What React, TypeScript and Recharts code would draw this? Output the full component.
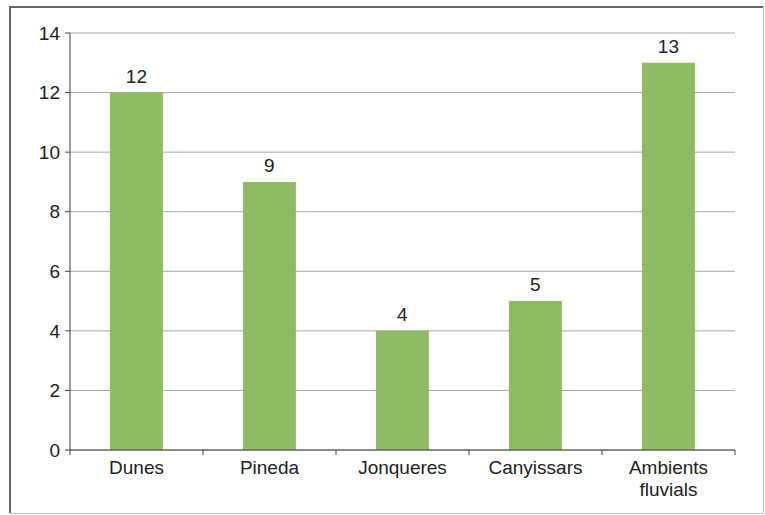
import React from "react";
import { BarChart, Bar, XAxis, YAxis, CartesianGrid, LabelList } from "recharts";

const categories = ["Dunes", "Pineda", "Jonqueres", "Canyissars", "Ambients fluvials"];
const values = [12, 9, 4, 5, 13];
const yTicks = [0, 2, 4, 6, 8, 10, 12, 14];

const data = categories.map((c, i) => ({ name: c, value: values[i] }));

const W = 765;
const H = 515;
const margin = { top: 33, right: 30, left: 10, bottom: 25 };
const yAxisWidth = 60;
const plotLeft = margin.left + yAxisWidth;
const plotWidth = W - plotLeft - margin.right;
const step = plotWidth / categories.length;
const FONT = "'Liberation Sans', Arial, sans-serif";
const FS = 19;

const XTick = (props: any) => {
  const { x, y, payload, index } = props;
  const label: string = payload.value;
  const lines = label.length > 11 ? label.split(" ") : [label];
  const left = x - step / 2;
  return (
    <g>
      <line x1={left} y1={y} x2={left} y2={y + 5} stroke="#404040" strokeWidth={1} />
      {index === categories.length - 1 && (
        <line x1={x + step / 2} y1={y} x2={x + step / 2} y2={y + 5} stroke="#404040" strokeWidth={1} />
      )}
      <text x={x} y={y + 24} textAnchor="middle" fill="#222" fontSize={FS} fontFamily={FONT}>
        {lines.map((l, i) => (
          <tspan key={i} x={x} dy={i === 0 ? 0 : 22}>
            {l}
          </tspan>
        ))}
      </text>
    </g>
  );
};

export default function App() {
  return (
    <div style={{ position: "absolute", left: 0, top: 0, width: W, height: H, background: "#fff" }}>
      <svg width={W} height={H} style={{ position: "absolute", left: 0, top: 0 }}>
        <line x1={9} y1={7} x2={763} y2={7} stroke="#666" strokeWidth={2} />
        <line x1={10} y1={6} x2={10} y2={513} stroke="#666" strokeWidth={2} />
        <line x1={763.5} y1={6} x2={763.5} y2={513} stroke="#c8c8c8" strokeWidth={1} />
        <line x1={10} y1={513.5} x2={764} y2={513.5} stroke="#c8c8c8" strokeWidth={1} />
      </svg>
      <div style={{ position: "absolute", left: 0, top: 0 }}>
        <BarChart width={W} height={H} data={data} margin={margin} barCategoryGap="30%">
          <CartesianGrid vertical={false} stroke="#a6a6a6" strokeWidth={1} />
          <XAxis
            dataKey="name"
            tick={<XTick />}
            tickLine={false}
            tickSize={0}
            tickMargin={0}
            axisLine={{ stroke: "#404040", strokeWidth: 1 }}
            height={40}
            interval={0}
          />
          <YAxis
            width={yAxisWidth}
            domain={[0, 14]}
            ticks={yTicks}
            interval={0}
            tickSize={5}
            tickMargin={5}
            tickLine={{ stroke: "#404040" }}
            axisLine={{ stroke: "#404040", strokeWidth: 1 }}
            tick={{ fill: "#222", fontSize: FS, fontFamily: FONT }}
          />
          <Bar dataKey="value" fill="#8fbc62" isAnimationActive={false}>
            <LabelList dataKey="value" position="top" offset={10} fill="#222" fontSize={FS} fontFamily={FONT} />
          </Bar>
        </BarChart>
      </div>
    </div>
  );
}
